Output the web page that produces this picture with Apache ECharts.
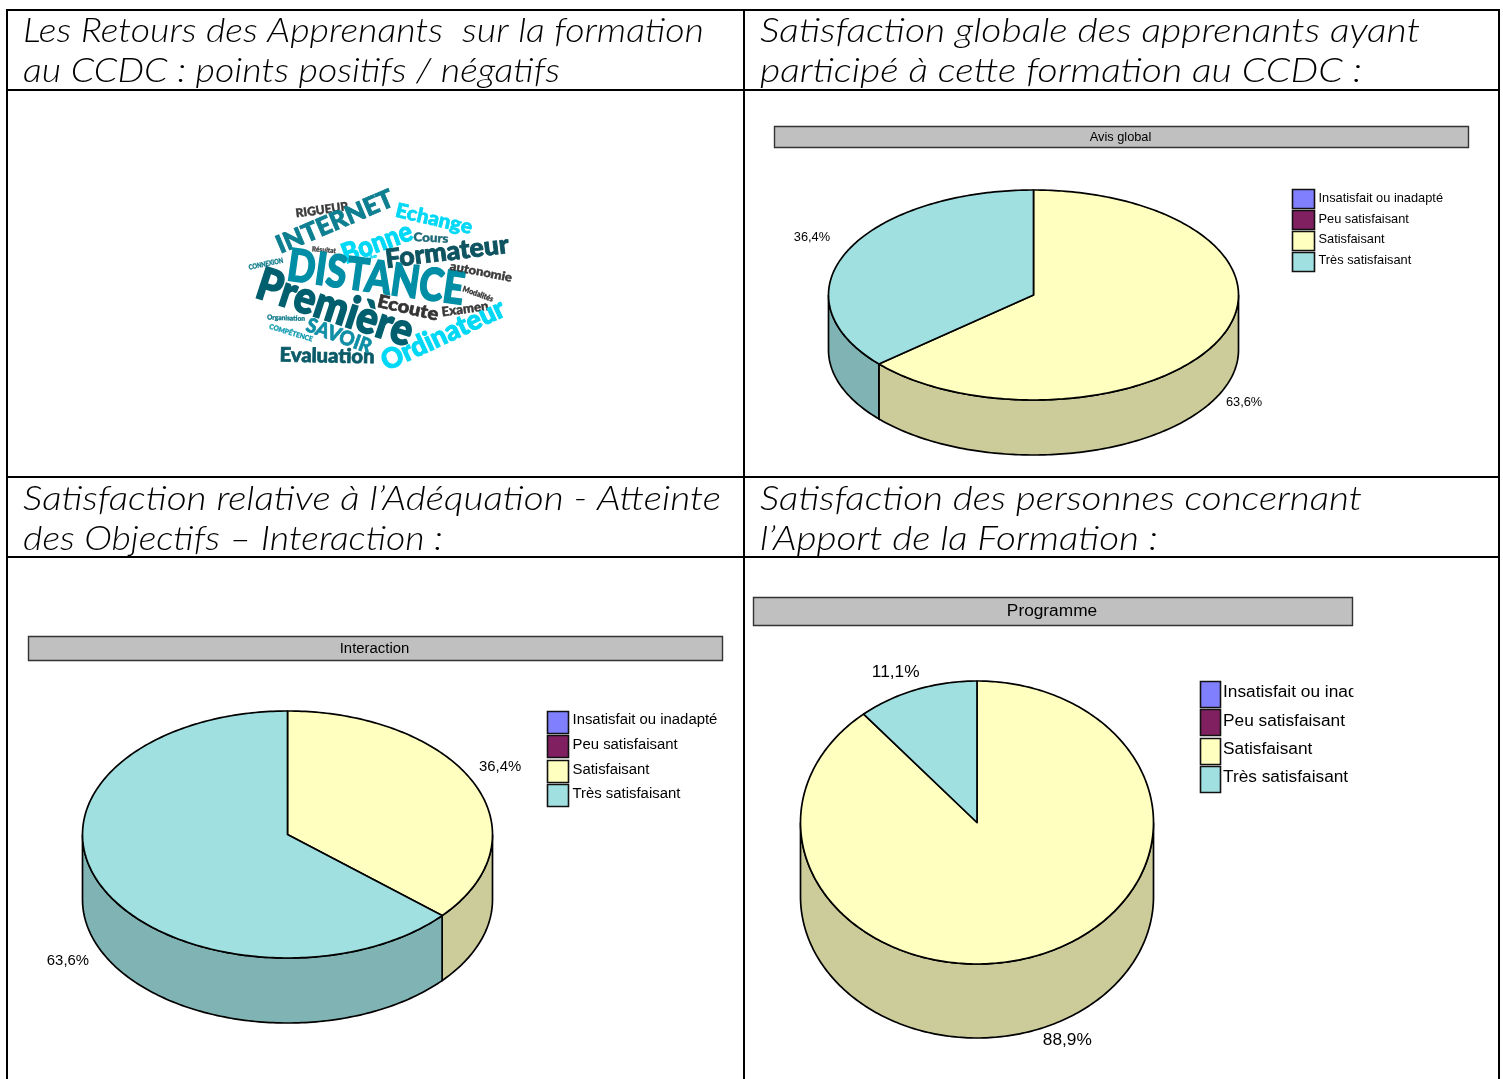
<!DOCTYPE html>
<html lang="fr" style="height: 100%">
<head>
    <meta charset="utf-8">
    <title>Retours des apprenants</title>
    <script src="https://cdn.jsdelivr.net/npm/echarts@6/dist/echarts.min.js"></script>
    <style>
        html, body { margin: 0; padding: 0; background: #fff; overflow: hidden; }
        #main { width: 1503px; height: 1079px; }
    </style>
</head>
<body>
<div id="main"></div>
<script type="text/javascript">
    // donnees
    var categories = ['Insatisfait ou inadapté', 'Peu satisfaisant', 'Satisfaisant', 'Très satisfaisant'];
    var avisGlobal = [0, 0, 63.6, 36.4];
    var interaction = [0, 0, 36.4, 63.6];
    var programme = [0, 0, 88.9, 11.1];
    var chartTitles = ['Avis global', 'Interaction', 'Programme'];
    var headings = [
        'Les Retours des Apprenants  sur la formation',
        'au CCDC : points positifs / négatifs',
        'Satisfaction globale des apprenants ayant',
        'participé à cette formation au CCDC :',
        'Satisfaction relative à l’Adéquation - Atteinte',
        'des Objectifs – Interaction :',
        'Satisfaction des personnes concernant',
        'l’Apport de la Formation :'
    ];
    var words = ['RIGUEUR', 'INTERNET', 'Echange', 'Bonne', 'Cours', 'Formateur', 'Résultat', 'vie', 'CONNEXION',
        'DISTANCE', 'autonomie', 'Première', 'Modalités', 'Ecoute', 'Examen', 'Ordinateur', 'Organisation',
        'COMPÉTENCE', 'SAVOIR', 'Evaluation'];

    // mise en page
    var colors = ['#8080ff', '#802060', '#ffffc0', '#a0e0e0'];
    var sideColors = ['#6666cc', '#661a4d', '#cccc9a', '#80b3b3'];
    var pieLayouts = [
        { data: avisGlobal, cx: 1033.5, cy: 295, rx: 205, ry: 105, depth: 55, font: 12.8,
            offsets: [[24, 9], [-35, -14]],
            bar: [774, 126, 694, 21], swX: 1292, swW: 22, swY: [189, 210, 231, 252], swH: 19, txtX: 1318.5,
            txtY: [198, 219, 239, 260] },
        { data: interaction, cx: 287.5, cy: 834.5, rx: 205, ry: 123.5, depth: 65, font: 14.9,
            offsets: [[26, -16], [-33, 10]],
            bar: [28, 636, 694, 24], swX: 547, swW: 21, swY: [711, 735, 760, 784], swH: 22, txtX: 572.5,
            txtY: [720, 745, 770, 794] },
        { data: programme, cx: 977, cy: 822.5, rx: 176.5, ry: 141.5, depth: 74, font: 17.3,
            offsets: [[30, 11], [-21, -17]],
            bar: [753, 597, 599, 28], swX: 1200, swW: 20, swY: [681, 709, 738, 766], swH: 26, txtX: 1223,
            txtY: [692, 721, 749, 777] }
    ];
    var headingPos = [[23, 31, 681], [23, 71, 537], [760, 31, 660], [760, 71, 602],
        [23, 499, 698], [23, 539, 420], [760, 499, 602], [760, 539, 398]];
    // x, y, largeur, taille, rotation, couleur (meme ordre que words)
    var wordPos = [
        [322, 210, 53, 12, 8, '#3a3a3a'], [335, 222, 125, 25, 23, '#0e7f90'], [434, 219, 78, 20, -13, '#00d8f5'],
        [377, 243, 73, 28, 20, '#00d8f5'], [431, 238, 35, 12, -3, '#1e6a78'], [447, 252, 124, 26, 7, '#0d5360'],
        [324, 250, 24, 7, -5, '#444444'], [372, 257, 10, 5, 20, '#00d8f5'], [266, 264, 35, 7, 12, '#0d7a8a'],
        [376, 278, 178, 45, -8, '#008ea6'], [481, 272, 63, 12, -11, '#3a3a3a'], [335, 308, 162, 45, -18, '#005f6e'],
        [478, 294, 32, 8, -20, '#333333'], [408, 308, 62, 18, -13, '#333333'], [465, 309, 47, 13, 8, '#3a3a3a'],
        [443, 335, 133, 28, 25, '#00d8f5'], [286, 318, 38, 7, -2, '#0d7a8a'], [291, 333, 45, 7, -17, '#0e9ab0'],
        [339, 336, 68, 20, -20, '#0e8fa6'], [327, 356, 95, 20, -1, '#0a5a68']
    ];
    var HEADING_FONT = 'italic 300 33px Lato';
    var SANS = '"Liberation Sans", Arial, sans-serif';

    var measureCtx = document.createElement('canvas').getContext('2d');
    function fitScale(text, font, width) {
        measureCtx.font = font;
        return width / measureCtx.measureText(text).width;
    }

    var myChart = echarts.init(document.getElementById('main'), null, { renderer: 'canvas' });

    // angle compte depuis le haut, sens horaire
    function edgePoint(p, deg, down) {
        var a = deg * Math.PI / 180;
        return [p.cx + Math.sin(a) * p.rx, p.cy - Math.cos(a) * p.ry + (down || 0)];
    }

    function makeRenderItem(p) {
        return function (params) {
            var value = p.data[params.dataIndex];
            if (!value) return null;
            var total = p.data.reduce(function (s, v) { return s + v; }, 0);
            var start = 0;
            for (var i = 0; i < params.dataIndex; i++) start += p.data[i] / total * 360;
            var end = start + value / total * 360;
            var children = [];

            // flanc visible : seulement la moitie basse de l'ellipse
            var s0 = Math.max(start, 90), s1 = Math.min(end, 270);
            if (s1 > s0) {
                var side = [], d;
                for (d = s0; d < s1; d += 1) side.push(edgePoint(p, d));
                side.push(edgePoint(p, s1));
                var low = [edgePoint(p, s1, p.depth)];
                for (d = s1 - 1; d > s0; d -= 1) low.push(edgePoint(p, d, p.depth));
                low.push(edgePoint(p, s0, p.depth));
                children.push({
                    type: 'polygon', shape: { points: side.concat(low) },
                    style: { fill: sideColors[params.dataIndex], stroke: '#000', lineWidth: 1.7 }
                });
            }

            var top = [[p.cx, p.cy]];
            for (var t = start; t < end; t += 1) top.push(edgePoint(p, t));
            top.push(edgePoint(p, end));
            children.push({
                type: 'polygon', z2: 5, shape: { points: top },
                style: { fill: colors[params.dataIndex], stroke: '#000', lineWidth: 1.7, lineJoin: 'round' }
            });

            var mid = (start + end) / 2;
            var isDown = mid > 90 && mid < 270;
            var lp = edgePoint(p, mid, isDown ? p.depth : 0);
            var off = p.offsets[params.dataIndex - 2];
            children.push({
                type: 'text', z2: 10, x: lp[0] + off[0], y: lp[1] + off[1],
                style: {
                    text: value.toFixed(1).replace('.', ',') + '%', align: 'center', verticalAlign: 'middle',
                    fontFamily: SANS, fontSize: p.font, fill: '#000'
                }
            });
            return { type: 'group', children: children };
        };
    }

    var graphics = [];

    // grille du tableau
    [[7, 9, 7, 1079], [744, 9, 744, 1079], [1499, 9, 1499, 1079], [6, 10, 1500, 10], [6, 90, 1500, 90],
        [6, 477, 1500, 477], [6, 557, 1500, 557]].forEach(function (l) {
        graphics.push({
            type: 'line', shape: { x1: l[0], y1: l[1], x2: l[2], y2: l[3] },
            style: { stroke: '#000', lineWidth: 2 }
        });
    });

    headings.forEach(function (text, i) {
        var h = headingPos[i];
        graphics.push({
            type: 'text', x: h[0], y: h[1], scaleX: fitScale(text, HEADING_FONT, h[2]),
            style: {
                text: text, fontFamily: 'Lato', fontStyle: 'italic', fontWeight: 300, fontSize: 33,
                fill: '#000', align: 'left', verticalAlign: 'middle'
            }
        });
    });

    // nuage de mots
    words.forEach(function (text, i) {
        var w = wordPos[i];
        var font = '900 ' + w[3] + 'px Lato';
        graphics.push({
            type: 'text', x: w[0], y: w[1], rotation: w[4] * Math.PI / 180,
            scaleX: fitScale(text, font, w[2]),
            style: {
                text: text, fontFamily: 'Lato', fontWeight: 900, fontSize: w[3], fill: w[5],
                stroke: w[5], lineWidth: Math.max(0.3, w[3] * 0.035),
                align: 'center', verticalAlign: 'middle'
            }
        });
    });

    pieLayouts.forEach(function (p, n) {
        var b = p.bar;
        graphics.push({
            type: 'rect', shape: { x: b[0] + 0.5, y: b[1] + 0.5, width: b[2], height: b[3] },
            style: { fill: '#c0c0c0', stroke: '#333', lineWidth: 1.4 }
        });
        graphics.push({
            type: 'text', x: b[0] + b[2] / 2 - 0.5, y: b[1] + b[3] / 2 + (n < 2 ? 1 : 0),
            style: {
                text: chartTitles[n], fontFamily: SANS, fontSize: p.font, fill: '#000',
                align: 'center', verticalAlign: 'middle'
            }
        });
        categories.forEach(function (c, i) {
            graphics.push({
                type: 'rect', shape: { x: p.swX + 0.5, y: p.swY[i] + 0.5, width: p.swW, height: p.swH },
                style: { fill: colors[i], stroke: '#111', lineWidth: 1.6 }
            });
            graphics.push({
                type: 'text', x: p.txtX, y: p.txtY[i],
                style: {
                    text: c, fontFamily: SANS, fontSize: p.font, fill: '#000',
                    align: 'left', verticalAlign: 'middle'
                }
            });
        });
    });
    // la legende de Programme est coupee a droite
    graphics.push({
        type: 'rect', shape: { x: 1353.5, y: 660, width: 60, height: 50 },
        style: { fill: '#fff' }
    });

    myChart.setOption({
        animation: false,
        backgroundColor: '#fff',
        tooltip: { show: false },
        graphic: { elements: graphics },
        series: pieLayouts.map(function (p, n) {
            return {
                type: 'custom', name: chartTitles[n], coordinateSystem: 'none', silent: true,
                renderItem: makeRenderItem(p), data: p.data
            };
        })
    });
</script>
</body>
</html>
